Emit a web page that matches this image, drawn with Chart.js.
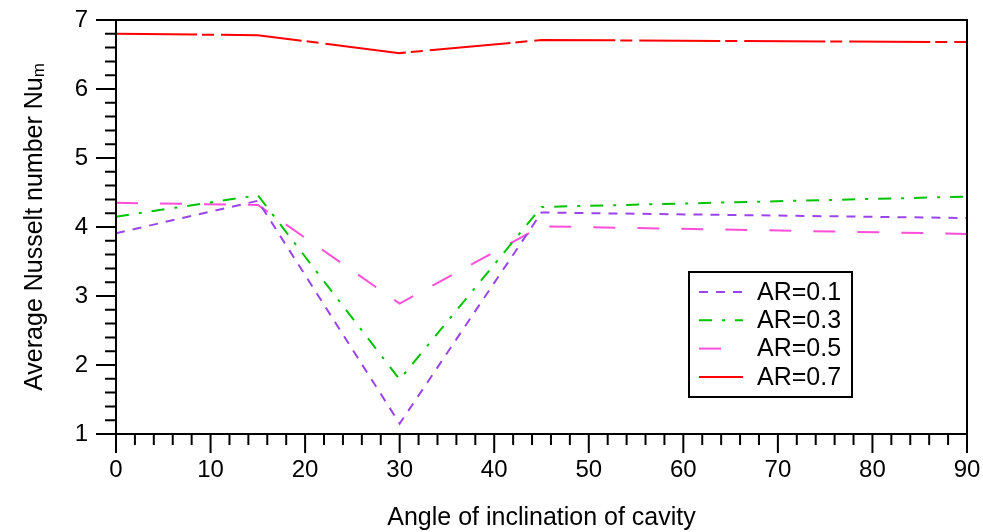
<!DOCTYPE html>
<html lang="en">
<head>
    <meta charset="UTF-8">
    <title>Average Nusselt number vs angle of inclination</title>
    <script src="https://cdn.jsdelivr.net/npm/chart.js"></script>
    <style>
        body { margin: 0; background: #fff; }
        canvas { display: block; }
    </style>
</head>
<body>
    <canvas id="myChart" width="983" height="532"></canvas>

<script>
  // data
  var angulos = [0, 15, 30, 45, 90];
  var ar01 = [3.91, 4.38, 1.15, 4.21, 4.13];
  var ar03 = [4.15, 4.46, 1.79, 4.29, 4.44];
  var ar05 = [4.35, 4.32, 2.89, 4.01, 3.90];
  var ar07 = [6.80, 6.78, 6.52, 6.71, 6.68];

  var legendas = ['AR=0.1', 'AR=0.3', 'AR=0.5', 'AR=0.7'];
  var xTicks = [0, 10, 20, 30, 40, 50, 60, 70, 80, 90];
  var yTicks = [1, 2, 3, 4, 5, 6, 7];

  var fonte = "'Liberation Sans', Arial, sans-serif";

  function pontos(valores) {
      return valores.map((v, i) => ({ x: angulos[i], y: v }));
  }

  // frame, tick marks, axis titles and the boxed legend
  var molduraPlugin = {
      id: 'moldura',
      afterDatasetsDraw(chart) {
          var ctx = chart.ctx;
          var area = chart.chartArea;
          var sx = chart.scales.x;
          var sy = chart.scales.y;

          ctx.save();
          ctx.strokeStyle = '#000';
          ctx.lineWidth = 2;
          ctx.setLineDash([]);
          ctx.beginPath();
          ctx.moveTo(area.left, area.top);
          ctx.lineTo(area.right, area.top);
          ctx.lineTo(area.right, area.bottom);
          ctx.lineTo(area.left, area.bottom);
          ctx.closePath();
          ctx.stroke();

          // x ticks: major every 10, minor every 2
          ctx.beginPath();
          for (var v = 0; v <= 90; v += 2) {
              var px = sx.getPixelForValue(v);
              var len = (v % 10 == 0) ? 19 : 11;
              ctx.moveTo(px, area.bottom);
              ctx.lineTo(px, area.bottom + len);
          }
          // y ticks: major every 1, minor every 0.2
          for (var k = 0; k <= 30; k++) {
              var val = 1 + k * 0.2;
              var py = sy.getPixelForValue(val);
              var len2 = (k % 5 == 0) ? 20 : 11;
              ctx.moveTo(area.left, py);
              ctx.lineTo(area.left - len2, py);
          }
          ctx.stroke();

          // x title
          ctx.fillStyle = '#000';
          ctx.font = '25px ' + fonte;
          ctx.textAlign = 'center';
          ctx.textBaseline = 'alphabetic';
          ctx.fillText('Angle of inclination of cavity', (area.left + area.right) / 2, 525);

          // y title with subscript m
          ctx.save();
          ctx.translate(42, (area.top + area.bottom) / 2);
          ctx.rotate(-Math.PI / 2);
          ctx.font = '25px ' + fonte;
          var t1 = 'Average Nusselt number Nu';
          var w1 = ctx.measureText(t1).width;
          ctx.font = '17px ' + fonte;
          var w2 = ctx.measureText('m').width;
          var inicio = -(w1 + w2) / 2;
          ctx.textAlign = 'left';
          ctx.font = '25px ' + fonte;
          ctx.fillText(t1, inicio, 0);
          ctx.font = '17px ' + fonte;
          ctx.fillText('m', inicio + w1, 2);
          ctx.restore();

          // legend
          var bx = 689, by = 272, bw = 163, bh = 125;
          ctx.fillStyle = '#fff';
          ctx.fillRect(bx, by, bw, bh);
          ctx.lineWidth = 2;
          ctx.strokeStyle = '#000';
          ctx.strokeRect(bx, by, bw, bh);
          chart.data.datasets.forEach((ds, i) => {
              var ly = 292 + i * 28.3;
              ctx.beginPath();
              ctx.strokeStyle = ds.borderColor;
              ctx.setLineDash(ds.borderDash || []);
              ctx.moveTo(699, ly);
              ctx.lineTo(743, ly);
              ctx.stroke();
              ctx.setLineDash([]);
              ctx.fillStyle = '#000';
              ctx.font = '25px ' + fonte;
              ctx.textAlign = 'left';
              ctx.textBaseline = 'middle';
              ctx.fillText(ds.label, 757, ly + 1);
          });
          ctx.restore();
      }
  };

  var config = {
      type: 'line',
      data: {
        datasets: [{
          label: legendas[0],
          data: pontos(ar01),
          borderColor: '#9a45ea',
          borderWidth: 2,
          borderDash: [9, 8]
        }, {
          label: legendas[1],
          data: pontos(ar03),
          borderColor: '#00c400',
          borderWidth: 2,
          borderDash: [13, 10, 3, 10]
        }, {
          label: legendas[2],
          data: pontos(ar05),
          borderColor: '#ff4fd8',
          borderWidth: 2,
          borderDash: [22, 22]
        }, {
          label: legendas[3],
          data: pontos(ar07),
          borderColor: '#ff0000',
          borderWidth: 2,
          borderDash: [81, 5, 12, 7]
        }]
      },
      options: {
        responsive: false,
        animation: false,
        layout: { padding: { top: 20, right: 16, left: 0, bottom: 0 } },
        elements: {
          point: { radius: 0 },
          line: { tension: 0, fill: false }
        },
        plugins: {
          legend: { display: false },
          tooltip: { enabled: false }
        },
        scales: {
          x: {
            type: 'linear',
            min: 0,
            max: 90,
            afterFit: s => { s.height = 98; s.paddingLeft = 0; s.paddingRight = 0; },
            afterBuildTicks: s => { s.ticks = xTicks.map(v => ({ value: v })); },
            grid: { display: false, drawTicks: false },
            border: { display: false },
            ticks: {
              padding: 22,
              color: '#000',
              font: { family: fonte, size: 24 },
              maxRotation: 0
            }
          },
          y: {
            type: 'linear',
            min: 1,
            max: 7,
            afterFit: s => { s.width = 116; s.paddingTop = 0; s.paddingBottom = 0; },
            afterBuildTicks: s => { s.ticks = yTicks.map(v => ({ value: v })); },
            grid: { display: false, drawTicks: false },
            border: { display: false },
            ticks: {
              padding: 28,
              color: '#000',
              font: { family: fonte, size: 24 }
            }
          }
        }
      },
      plugins: [molduraPlugin]
  };

  var myChart = new Chart(document.getElementById('myChart'), config);
</script>
</body>
</html>
